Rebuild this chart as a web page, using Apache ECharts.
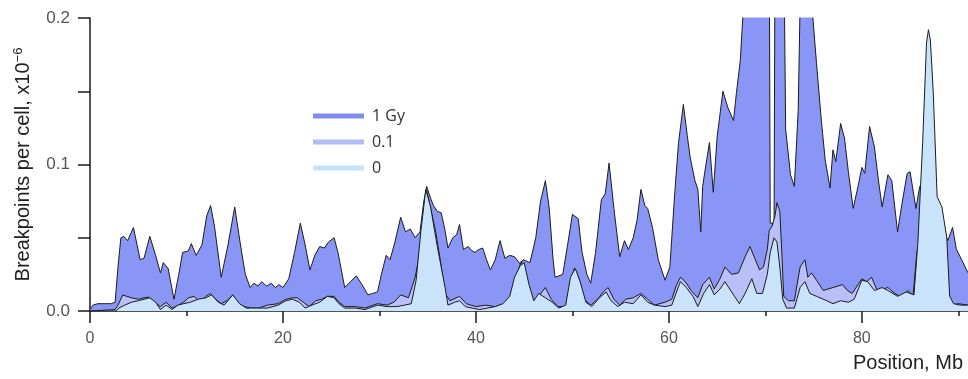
<!DOCTYPE html>
<html><head><meta charset="utf-8">
<script src="https://cdn.jsdelivr.net/npm/echarts@6/dist/echarts.min.js"></script>
<style>html,body{margin:0;padding:0;background:#fff}#c{width:968px;height:379px}</style>
</head><body><div id="c"></div>
<script>
// Position (Mb) and breakpoints per cell (x10^-6), per dose
const gy1X = [0,0.3,0.8,1.5,2.2,2.6,2.9,3.2,3.5,3.9,4.5,5.2,5.6,6.2,6.8,7.3,7.6,8.1,8.7,9.2,9.6,10.2,10.5,11.0,11.6,12.1,12.5,12.9,13.6,14.3,15.0,15.6,16.1,16.6,17.0,17.4,17.8,18.3,18.8,19.2,19.6,20.0,20.6,21.2,21.8,22.3,22.8,23.3,23.8,24.3,24.7,25.3,25.7,26.4,27.0,27.6,28.2,28.8,29.3,29.8,30.2,30.7,31.1,31.6,32.2,32.7,33.2,33.7,34.2,34.6,34.9,35.3,35.6,36.0,36.4,36.8,37.1,37.6,38.0,38.3,38.7,39.2,39.6,39.9,40.3,40.7,41.1,41.5,42.0,42.5,43.0,43.5,44.0,44.6,44.9,45.6,46.2,46.7,47.2,47.6,48.0,48.2,49.0,49.5,50.0,50.6,51.0,51.5,51.9,52.4,53.0,53.4,53.8,54.3,54.9,55.4,55.8,56.3,56.7,57.1,57.5,57.8,58.3,58.9,59.6,60.1,60.6,61.0,61.5,61.9,62.2,62.7,63.0,63.3,63.5,63.7,64.2,64.6,65.0,65.6,66.1,66.7,67.0,67.4,67.7,68.0,70.4,70.5,70.9,71.0,71.9,72.1,72.6,73.0,73.4,73.6,74.8,75.3,75.8,76.2,76.7,77.0,77.3,77.8,78.2,78.6,79.1,79.6,80.0,80.3,80.8,81.3,81.7,82.1,82.7,83.1,83.7,84.2,84.7,85.0,85.6,86.0,86.5,87.0,87.5,88.0,88.5,88.9,89.4,89.8,90.5,91.0];
const gy1Y = [0.001,0.004,0.005,0.005,0.005,0.006,0.030,0.050,0.051,0.048,0.057,0.035,0.036,0.051,0.038,0.026,0.033,0.029,0.008,0.025,0.040,0.041,0.046,0.038,0.045,0.065,0.072,0.058,0.023,0.045,0.071,0.045,0.025,0.016,0.019,0.017,0.020,0.017,0.019,0.016,0.018,0.016,0.022,0.040,0.060,0.045,0.028,0.038,0.044,0.043,0.047,0.050,0.040,0.016,0.020,0.024,0.018,0.011,0.012,0.013,0.025,0.038,0.035,0.047,0.064,0.054,0.056,0.050,0.054,0.075,0.085,0.077,0.072,0.068,0.067,0.055,0.043,0.050,0.052,0.059,0.042,0.044,0.041,0.040,0.042,0.043,0.035,0.028,0.035,0.048,0.036,0.038,0.037,0.032,0.035,0.033,0.050,0.075,0.089,0.070,0.035,0.023,0.025,0.045,0.066,0.063,0.040,0.025,0.019,0.040,0.076,0.080,0.101,0.070,0.037,0.048,0.042,0.050,0.062,0.083,0.072,0.070,0.057,0.035,0.021,0.030,0.080,0.115,0.141,0.120,0.105,0.089,0.083,0.054,0.085,0.094,0.115,0.081,0.119,0.150,0.139,0.130,0.149,0.171,0.205,0.260,0.260,0.060,0.060,0.260,0.260,0.124,0.093,0.085,0.137,0.210,0.210,0.169,0.130,0.103,0.084,0.110,0.102,0.128,0.118,0.095,0.070,0.085,0.098,0.094,0.126,0.112,0.090,0.071,0.093,0.089,0.054,0.075,0.094,0.095,0.070,0.085,0.080,0.075,0.070,0.065,0.055,0.048,0.057,0.042,0.033,0.026];

const gy01X = [0,2.6,2.9,3.4,3.8,4.3,5.0,5.6,6.1,6.7,7.3,7.9,8.5,9.2,9.7,10.2,10.8,11.4,12.0,12.5,13.0,13.6,14.2,14.8,15.4,16.0,16.7,17.5,18.4,19.5,20.3,21.0,21.5,22.1,22.7,23.4,24.0,24.6,25.3,25.8,26.4,27.5,28.5,29.8,30.8,31.5,32.2,33.0,33.7,34.2,34.7,34.9,35.3,35.8,36.3,36.8,37.3,38.3,39.0,40.0,41.0,42.0,43.0,43.5,44.0,44.7,45.2,45.9,46.5,47.2,47.8,48.5,49.3,49.8,50.2,50.7,51.2,51.9,52.6,53.2,53.7,54.3,54.9,55.5,56.3,57.1,57.8,58.5,59.6,60.3,60.8,61.2,61.7,62.3,63.0,63.5,64.2,64.7,65.3,65.8,66.5,67.2,67.9,68.4,68.9,69.4,69.8,70.2,70.4,70.7,71.0,71.2,71.5,71.7,71.9,72.4,73.0,73.6,74.1,74.4,74.8,75.3,76.0,77.0,78.0,78.5,79.0,80.0,80.5,81.0,81.6,82.7,83.4,84.0,84.8,85.3,85.7,86.5,87.5,88.5,88.9,89.3,90.0,91.0];
const gy01Y = [0.000,0.001,0.004,0.011,0.010,0.009,0.008,0.009,0.0095,0.006,0.003,0.006,0.002,0.004,0.006,0.009,0.010,0.006,0.010,0.012,0.008,0.005,0.007,0.011,0.005,0.003,0.002,0.002,0.004,0.005,0.008,0.009,0.009,0.006,0.003,0.007,0.008,0.010,0.010,0.006,0.003,0.003,0.002,0.005,0.004,0.006,0.011,0.009,0.023,0.040,0.074,0.082,0.070,0.055,0.035,0.012,0.007,0.010,0.005,0.003,0.004,0.003,0.005,0.009,0.020,0.034,0.020,0.006,0.010,0.016,0.008,0.003,0.003,0.020,0.029,0.022,0.008,0.004,0.008,0.013,0.016,0.008,0.004,0.008,0.009,0.012,0.008,0.004,0.006,0.008,0.018,0.023,0.020,0.014,0.009,0.018,0.023,0.015,0.022,0.030,0.025,0.026,0.037,0.044,0.036,0.028,0.030,0.042,0.055,0.058,0.065,0.074,0.068,0.040,0.010,0.007,0.007,0.030,0.035,0.023,0.026,0.021,0.014,0.016,0.018,0.014,0.012,0.022,0.020,0.023,0.014,0.016,0.012,0.010,0.014,0.010,0.040,0.060,0.060,0.030,0.006,0.004,0.005,0.004];

const gy0X = [0,2.7,3.0,3.6,4.3,5.0,5.6,6.2,6.8,7.3,7.9,8.5,9.1,9.7,10.4,11.2,12.0,12.6,13.3,13.9,14.8,15.5,16.2,17.0,18.4,19.5,20.3,21.0,21.7,22.3,23.0,23.8,24.6,25.3,25.8,26.4,27.5,28.5,29.8,30.8,31.8,32.6,33.3,33.8,34.3,34.8,35.3,36.0,36.8,37.1,37.8,38.3,38.9,39.6,40.4,41.2,42.0,42.8,43.5,44.0,44.6,45.0,45.5,46.0,46.5,47.2,47.9,48.6,49.3,49.8,50.3,50.8,51.4,52.0,52.8,53.5,54.0,54.7,55.4,56.3,57.1,57.8,58.5,59.6,60.3,60.9,61.2,61.8,62.5,63.0,63.6,64.2,64.7,65.3,65.8,66.5,67.3,67.9,68.6,69.1,69.7,70.2,70.5,70.9,71.2,71.5,71.8,72.2,73.0,73.6,74.1,74.6,75.3,76.2,77.0,77.8,78.6,79.2,80.0,80.6,81.3,82.1,82.7,83.7,84.6,85.4,85.8,86.3,86.7,86.9,87.1,87.4,87.8,88.3,88.8,89.1,89.5,90.2,91.0];
const gy0Y = [0.000,0.000,0.002,0.004,0.006,0.007,0.008,0.009,0.006,0.001,0.004,0.001,0.004,0.005,0.006,0.008,0.009,0.011,0.006,0.004,0.011,0.005,0.002,0.002,0.002,0.004,0.007,0.008,0.006,0.002,0.004,0.006,0.010,0.009,0.005,0.002,0.002,0.001,0.004,0.003,0.003,0.004,0.005,0.021,0.055,0.083,0.071,0.044,0.016,0.004,0.006,0.007,0.003,0.002,0.001,0.002,0.003,0.005,0.010,0.023,0.031,0.033,0.018,0.007,0.012,0.009,0.006,0.002,0.004,0.023,0.029,0.020,0.006,0.003,0.009,0.013,0.007,0.003,0.006,0.005,0.011,0.006,0.004,0.003,0.004,0.015,0.020,0.016,0.010,0.003,0.012,0.018,0.011,0.015,0.020,0.013,0.005,0.012,0.022,0.012,0.012,0.025,0.040,0.050,0.047,0.030,0.008,0.002,0.002,0.016,0.020,0.012,0.010,0.0075,0.005,0.007,0.006,0.008,0.021,0.020,0.014,0.016,0.014,0.010,0.013,0.011,0.046,0.115,0.183,0.192,0.185,0.149,0.078,0.071,0.050,0.010,0.005,0.004,0.004];

const seriesNames = ['1 Gy', '0.1', '0'];
const xMajorTicks = [0, 20, 40, 60, 80];
const xMinorTicks = [10, 30, 50, 70, 90];
const yTicks = [0.0, 0.1, 0.2];

const fills = ['#8996f5', '#b9c0f8', '#c9e4fa'];
const legendCols = ['#7f8cef', '#b3bcf5', '#c6e3f9'];

const zip = (xs, ys) => xs.map((x, i) => [x, ys[i]]);
const seriesData = [zip(gy1X, gy1Y), zip(gy01X, gy01Y), zip(gy0X, gy0Y)];

const axisCol = '#1a1a1a';
const chart = echarts.init(document.getElementById('c'), null, {renderer: 'canvas'});
chart.setOption({
  animation: false,
  backgroundColor: '#fff',
  grid: {left: 90, top: 18, right: 0, bottom: 68, containLabel: false},
  legend: {
    orient: 'vertical', left: 308, top: 103,
    itemWidth: 51, itemHeight: 5, itemGap: 10,
    textStyle: {fontFamily: 'Open Sans', fontSize: 16, color: '#333', lineHeight: 16, padding: [0, 0, 0, 3]},
    data: seriesNames.map((n, i) => ({name: n, icon: 'rect', itemStyle: {color: legendCols[i], borderWidth: 0}}))
  },
  xAxis: [{
    type: 'value', min: 0, max: 91,
    splitLine: {show: false},
    axisLine: {show: true, onZero: false, lineStyle: {color: axisCol, width: 1.5}},
    axisTick: {show: true, length: 12, customValues: xMajorTicks, lineStyle: {color: axisCol, width: 1.5}},
    axisLabel: {margin: 20, fontFamily: 'Liberation Sans', fontSize: 16, color: '#555', customValues: xMajorTicks}
  }, {
    type: 'value', min: 0, max: 91, position: 'bottom', offset: 0,
    splitLine: {show: false},
    axisLine: {show: false, onZero: false},
    axisTick: {show: true, length: 5, customValues: xMinorTicks, lineStyle: {color: axisCol, width: 1.5}},
    axisLabel: {show: false}
  }],
  yAxis: {
    type: 'value', min: 0, max: 0.2, interval: 0.05,
    splitLine: {show: false},
    axisLine: {show: true, lineStyle: {color: axisCol, width: 1.5}},
    axisTick: {show: true, length: 12, lineStyle: {color: axisCol, width: 1.5}},
    axisLabel: {margin: 20, fontFamily: 'Liberation Sans', fontSize: 17, color: '#555',
      formatter: v => { const r = Math.round(v * 100) / 100; return yTicks.some(t => Math.abs(t - r) < 1e-9) ? r.toFixed(1) : ''; }},
    name: 'Breakpoints per cell, x10{sup|−6}',
    nameLocation: 'middle', nameGap: 54,
    nameTextStyle: {fontFamily: 'Liberation Sans', fontSize: 20, color: '#222', lineHeight: 24,
      rich: {sup: {fontFamily: 'Liberation Sans', fontSize: 13, color: '#222', verticalAlign: 'top', lineHeight: 24, padding: [0, 0, 10, 0]}}}
  },
  graphic: [{
    type: 'text', right: 5, top: 353,
    style: {text: 'Position, Mb', fontFamily: 'Liberation Sans', fontSize: 20, fill: '#222'}
  }],
  series: seriesNames.map((n, i) => ({
    name: n, type: 'line', data: seriesData[i], xAxisIndex: 0,
    showSymbol: false, symbol: 'none', clip: true, z: 2 + i,
    lineStyle: {color: '#1c1c1c', width: 1},
    itemStyle: {color: legendCols[i]},
    areaStyle: {color: fills[i], opacity: 1, origin: 'start'}
  }))
});
</script></body></html>
